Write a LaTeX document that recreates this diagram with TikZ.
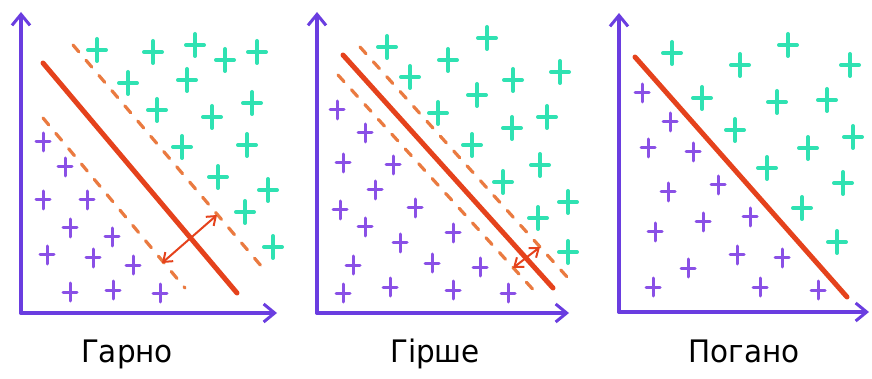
\documentclass[tikz,border=0pt]{standalone}
\usepackage{fontspec}
\setmainfont{DejaVu Sans}
\usetikzlibrary{arrows.meta}
\definecolor{axisc}{HTML}{6A3DE0}
\definecolor{purp}{HTML}{8A50E6}
\definecolor{tealc}{HTML}{2FE2B2}
\definecolor{redl}{HTML}{E5421C}
\definecolor{dashc}{HTML}{EA7A40}
\tikzset{
  axisline/.style={draw=axisc,line width=3.6pt,line cap=round,
    -{Straight Barb[length=11pt,width=18pt,line width=3pt]}},
  tealmark/.pic={\draw[line cap=round] (-9,0) -- (9,0) (0,-11) -- (0,11);},
  purpmark/.pic={\draw[line cap=round] (-7,0) -- (7,0) (0,-9) -- (0,9);},
  tealplus/.style={draw=tealc,line width=4pt},
  purpplus/.style={draw=purp,line width=3pt},
  sepline/.style={draw=redl,line width=5pt,line cap=round},
  marginline/.style={draw=dashc,line width=3.2pt,line cap=round,dash pattern=on 9pt off 11pt},
  marginarrow/.style={draw=redl,line width=2pt,
    {Straight Barb[length=8pt,width=12pt]}-{Straight Barb[length=8pt,width=12pt]}},
  caption/.style={font=\fontsize{31}{33}\selectfont,text=black,xscale=0.95,anchor=base,inner sep=0pt}
}
\begin{document}
\begin{tikzpicture}[x=1pt,y=-1pt]
\useasboundingbox (0,0) rectangle (872,379);
\fill[white] (0,0) rectangle (872,379);

% ---------- Panel 1 ----------
\coordinate (o1) at (21,313);
\coordinate (y1) at (21,12);
\coordinate (x1) at (277,313);
\draw[axisline] (o1) -- (y1);
\draw[axisline] (o1) -- (x1);
\foreach \p in {(97,50),(153,52),(195,45),(225,60),(257,52),(128,83),(187,80),
  (252,103),(157,110),(212,117),(182,147),(247,145),(218,177),(268,190),(245,212),(273,247)}
  \pic[tealplus] at \p {tealmark};
\foreach \p in {(43,142),(65,167),(43,200),(87,200),(70,228),(112,237),(47,255),
  (93,258),(133,265),(70,292),(113,290),(160,293)}
  \pic[purpplus] at \p {purpmark};
\coordinate (s1a) at (43,63);  \coordinate (s1b) at (237,293);
\coordinate (u1a) at (73,45);  \coordinate (u1b) at (262,267);
\coordinate (d1a) at (43,118); \coordinate (d1b) at (185,288);
\coordinate (m1a) at (217,215); \coordinate (m1b) at (162,263);
\draw[marginline] (u1a) -- (u1b);
\draw[marginline] (d1a) -- (d1b);
\draw[sepline] (s1a) -- (s1b);
\draw[marginarrow] (m1b) -- (m1a);
\node[caption] (c1) at (127,362) {Гарно};

% ---------- Panel 2 ----------
\coordinate (o2) at (317,313);
\coordinate (y2) at (317,12);
\coordinate (x2) at (569,313);
\draw[axisline] (o2) -- (y2);
\draw[axisline] (o2) -- (x2);
\foreach \p in {(387,47),(487,38),(448,60),(410,77),(560,72),(513,80),(477,95),
  (438,113),(547,117),(512,128),(472,145),(540,165),(503,182),(568,202),(538,218),(568,252)}
  \pic[tealplus] at \p {tealmark};
\foreach \p in {(337,110),(365,133),(343,163),(393,165),(375,190),(340,210),(415,208),
  (365,227),(400,243),(453,233),(353,265),(432,263),(480,267),(343,293),(390,287),(453,290),(508,293)}
  \pic[purpplus] at \p {purpmark};
\coordinate (s2a) at (343,55);  \coordinate (s2b) at (553,288);
\coordinate (u2a) at (360,47);  \coordinate (u2b) at (568,278);
\coordinate (d2a) at (338,75);  \coordinate (d2b) at (538,295);
\coordinate (m2a) at (540,247); \coordinate (m2b) at (513,268);
\draw[marginline] (u2a) -- (u2b);
\draw[marginline] (d2a) -- (d2b);
\draw[sepline] (s2a) -- (s2b);
\draw[marginarrow] (m2b) -- (m2a);
\node[caption] (c2) at (435,362) {Гірше};

% ---------- Panel 3 ----------
\coordinate (o3) at (619,312);
\coordinate (y3) at (619,13);
\coordinate (x3) at (869,312);
\draw[axisline] (o3) -- (y3);
\draw[axisline] (o3) -- (x3);
\foreach \p in {(672,53),(740,65),(788,45),(850,65),(702,98),(777,102),(827,100),
  (735,130),(853,137),(808,148),(767,168),(843,183),(802,208),(837,242)}
  \pic[tealplus] at \p {tealmark};
\foreach \p in {(642,93),(670,122),(648,148),(693,152),(668,192),(718,185),(655,232),
  (703,222),(750,217),(737,255),(782,258),(688,268),(653,287),(760,287),(818,290)}
  \pic[purpplus] at \p {purpmark};
\coordinate (s3a) at (635,57);  \coordinate (s3b) at (847,297);
\draw[sepline] (s3a) -- (s3b);
\node[caption] (c3) at (744,362) {Погано};
\end{tikzpicture}
\end{document}
